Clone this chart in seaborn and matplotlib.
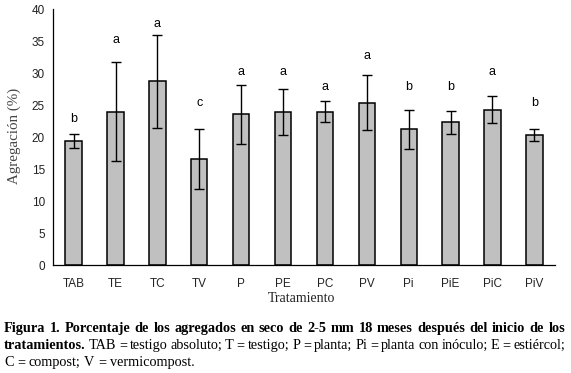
import matplotlib
matplotlib.use("Agg")
import matplotlib.pyplot as plt
import seaborn as sns
import pandas as pd
import numpy as np

categories = ["TAB", "TE", "TC", "TV", "P", "PE", "PC", "PV", "Pi", "PiE", "PiC", "PiV"]
values = [19.4, 24.0, 28.7, 16.6, 23.6, 23.9, 24.0, 25.4, 21.2, 22.3, 24.3, 20.3]
errors = [1.05, 7.7, 7.3, 4.7, 4.6, 3.6, 1.6, 4.3, 3.0, 1.8, 2.1, 0.9]
letters = ["b", "a", "a", "c", "a", "a", "a", "a", "b", "b", "a", "b"]
letter_y = [22.9, 35.1, 37.6, 25.3, 30.1, 30.1, 27.8, 32.7, 27.8, 27.8, 30.1, 25.3]
y_ticks = [0, 5, 10, 15, 20, 25, 30, 35, 40]

caption_lines = [
    [("Figura 1. Porcentaje de los agregados en seco de 2-5 mm 18 meses después del inicio de los", "bold")],
    [("tratamientos.", "bold"),
     ("TAB = testigo absoluto; T = testigo; P = planta; Pi = planta con inóculo; E = estiércol;", "normal")],
    [("C = compost; V = vermicompost.", "normal")],
]

df = pd.DataFrame({"Tratamiento": categories, "Agregacion": values})

sns.set_style("white")
plt.rcParams["font.family"] = ["Liberation Sans", "DejaVu Sans"]

W, H = 571, 373
fig = plt.figure(figsize=(W / 100, H / 100), dpi=100)
ax = fig.add_axes([52.7 / W, 1 - 265.3 / H, (555.3 - 52.7) / W, (265.3 - 9) / H])

sns.barplot(data=df, x="Tratamiento", y="Agregacion", order=categories,
            color="#c0c0c0", edgecolor="black", linewidth=1.1, width=0.39,
            saturation=1, errorbar=None, ax=ax)
for p in ax.patches:
    p.set_facecolor("#c0c0c0")

xs = np.arange(len(categories))
ax.errorbar(xs, values, yerr=errors, fmt="none", ecolor="black",
            elinewidth=1.0, capsize=3.4, capthick=1.0, zorder=5)

for x, t, ly in zip(xs, letters, letter_y):
    ax.text(x, ly, t, ha="center", va="center", fontsize=9, color="black")

ax.set_xlim(-0.5, len(categories) - 0.5)
ax.set_ylim(0, 40)
ax.set_yticks(y_ticks)
ax.set_yticklabels([str(v) for v in y_ticks], fontsize=8.5, color="#222222")
ax.set_xticks(xs)
ax.set_xticklabels(categories, fontsize=8.5, color="#222222")
ax.set_xticks(np.arange(-0.5, len(categories)), minor=True)
ax.tick_params(axis="x", which="major", length=0, pad=9)
ax.tick_params(axis="x", which="minor", length=4, width=0.8, direction="out", color="black")
ax.tick_params(axis="y", which="major", length=3.5, width=0.8, direction="out", color="black", pad=2)

for s in ["top", "right"]:
    ax.spines[s].set_visible(False)
for s in ["left", "bottom"]:
    ax.spines[s].set_color("black")
    ax.spines[s].set_linewidth(0.9)

ax.set_xlabel("")
ax.set_ylabel("")
fig.text(14 / W, 1 - 136 / H, "Agregación (%)", rotation=90, ha="center", va="center",
         fontsize=10.8, family="Liberation Serif", color="#444444")
fig.text(302 / W, 1 - 298 / H, "Tratamiento", ha="center", va="center",
         fontsize=10, family="Liberation Serif", color="#222222")

# Justified caption
fig.canvas.draw()
renderer = fig.canvas.get_renderer()
left_px, right_px = 4, 565
line_baselines = [332, 349, 366]
cap_size = 10.3
sp = fig.text(0, 0, "a b", fontsize=cap_size, family="Liberation Serif")
sp2 = fig.text(0, 0, "ab", fontsize=cap_size, family="Liberation Serif")
space_w = sp.get_window_extent(renderer).width - sp2.get_window_extent(renderer).width
sp.remove(); sp2.remove()
for li, (segs, ly) in enumerate(zip(caption_lines, line_baselines)):
    words = []
    for seg, wt in segs:
        for w in seg.split(" "):
            words.append((w, wt))
    texts = []
    widths = []
    for w, wt in words:
        t = fig.text(0, 1 - ly / H, w, fontsize=cap_size, family="Liberation Serif",
                     fontweight=wt, ha="left", va="baseline", color="black")
        bb = t.get_window_extent(renderer)
        texts.append(t)
        widths.append(bb.width)
    if li < len(caption_lines) - 1:
        gap = (right_px - left_px - sum(widths)) / (len(words) - 1)
    else:
        gap = space_w
    x = left_px
    for t, w in zip(texts, widths):
        t.set_x(x / W)
        x += w + gap

fig.savefig("out.png", dpi=100, facecolor="white")
